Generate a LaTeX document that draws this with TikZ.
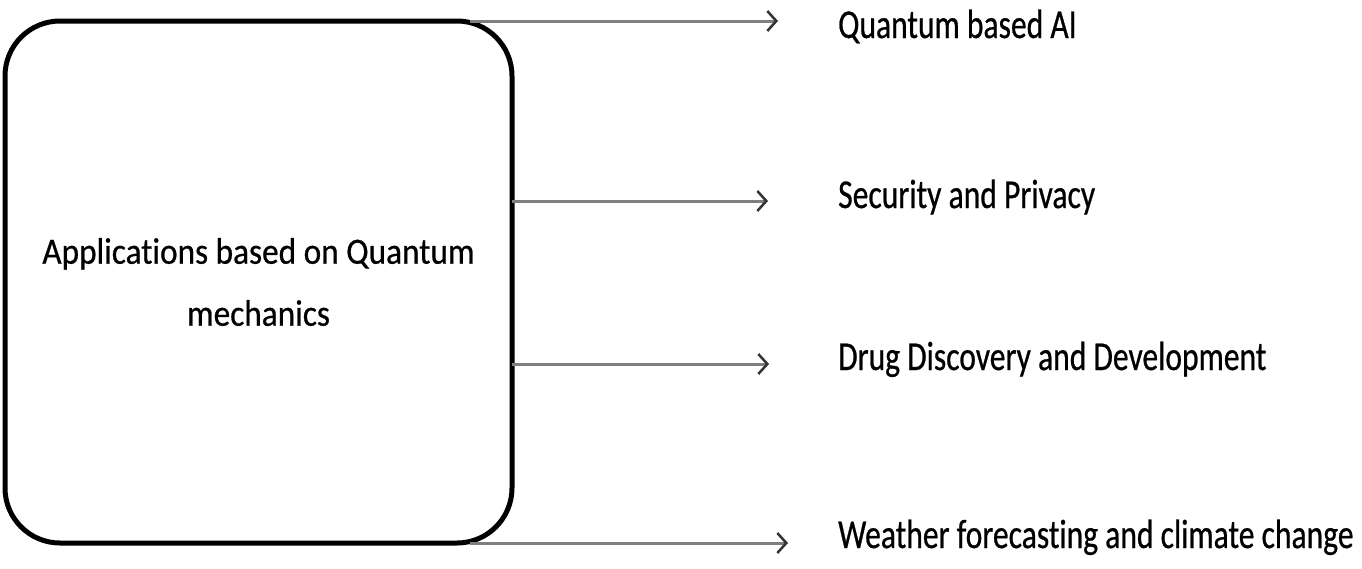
\documentclass[tikz,border=0pt]{standalone}
\usepackage{fontspec}
\setmainfont{Carlito}[Ligatures=NoCommon]
\newfontfamily\boxfont{Carlito}[FakeStretch=0.9,FakeBold=0.6,Ligatures=NoCommon]
\newfontfamily\labelfont{Carlito}[FakeStretch=0.77,FakeBold=0.6,Ligatures=NoCommon]
\usetikzlibrary{
    arrows.meta,
    shapes.geometric
}
\definecolor{linkgray}{HTML}{7F7F7F}
\tikzset{
  appbox/.style={
    draw=black,
    line width=5pt,
    rounded corners=55pt,
    minimum width=507pt,
    minimum height=522pt,
    align=center,
    font=\boxfont\fontsize{37}{62}\selectfont
  },
  applabel/.style={
    anchor=base west,
    inner sep=0pt,
    font=\labelfont\fontsize{41}{46}\selectfont
  },
  applink/.style={
    linkgray,
    line width=3pt,
    -{Straight Barb[length=9pt,width=20pt,line width=2.5pt,black!80]}
  }
}

\begin{document}
\begin{tikzpicture}[x=1pt,y=-1pt]
\useasboundingbox (0,0) rectangle (1362,568);
\node[appbox] (apps) at (258.5,282)
  {Applications based on Quantum\\mechanics};

% start and end points of the links
\coordinate (s1) at (470,21);
\coordinate (s2) at (512,201);
\coordinate (s3) at (512,364);
\coordinate (s4) at (470,543);
\coordinate (e1) at (778,21);
\coordinate (e2) at (768,201);
\coordinate (e3) at (769,364);
\coordinate (e4) at (788,543);

\node[applabel] (ai) at (838,38) {Quantum based AI};
\node[applabel] (sec) at (838,208) {Security and Privacy};
\node[applabel] (drug) at (838,370) {Drug Discovery and Development};
\node[applabel] (wea) at (838,548) {Weather forecasting and climate change};

\foreach \i in {1,...,4} {
  \draw[applink] (s\i) -- (e\i);
}
\end{tikzpicture}
\end{document}
